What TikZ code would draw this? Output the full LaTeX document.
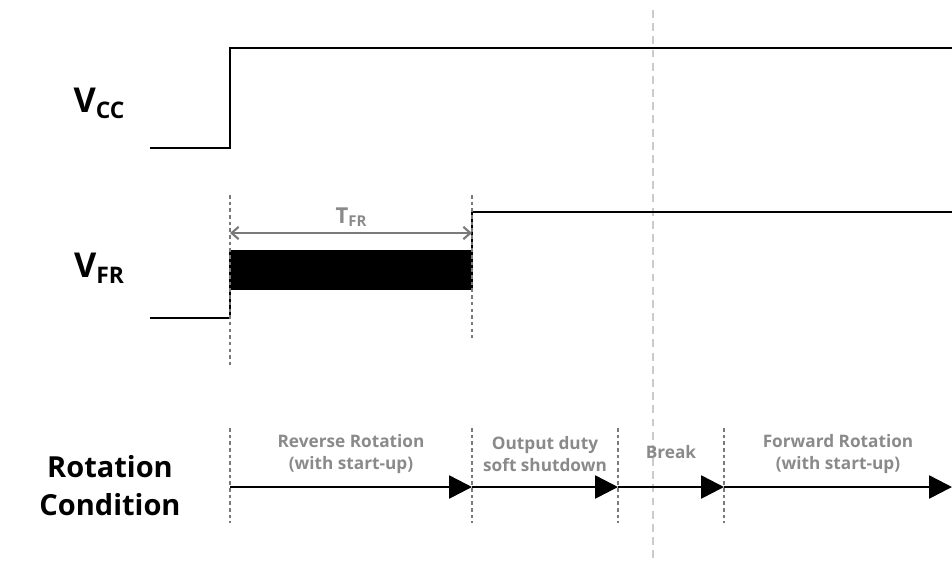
\documentclass[tikz,border=0pt]{standalone}
\usepackage{fontspec}
\setmainfont{Open Sans}
\usetikzlibrary{arrows.meta,positioning,calc}
\definecolor{labelgray}{HTML}{8A8A8A}
\definecolor{guidegray}{HTML}{7A7A7A}
\definecolor{breakgray}{HTML}{CBCBCB}
\tikzset{
  signal/.style={line width=1.45pt,black},
  guide/.style={guidegray,line width=1.1pt,dash pattern=on 2pt off 1.8pt},
  phase/.style={signal,-{Triangle[length=13pt,width=13pt]}},
  phaselabel/.style={labelgray,font=\bfseries\fontsize{9.8}{12.5}\selectfont,align=center},
  siglabel/.style={font=\bfseries\fontsize{19.5}{22}\selectfont},
  sublabel/.style={font=\bfseries\fontsize{11.5}{13}\selectfont}
}
\begin{document}
\begin{tikzpicture}[x=0.02cm,y=-0.02cm]
    \useasboundingbox (0,0) rectangle (952,562);
    % break marker
    \draw[breakgray,line width=0.6pt,dash pattern=on 4.5pt off 3pt] (653,10) -- (653,562);
    % signal names
    \node[siglabel] (vcc) at (99,103) {V\raisebox{-3.4pt}{\fontsize{13}{14}\selectfont CC}};
    \node[siglabel] (vfr) at (99,268) {V\raisebox{-3.4pt}{\fontsize{13}{14}\selectfont FR}};
    \node[font=\bfseries\fontsize{16.5}{21.5}\selectfont,align=center] (cond) at (110,486) {Rotation\\Condition};
    % Vcc
    \draw[signal] (150,148) -- (230,148) -- (230,48) -- (952,48);
    % Vfr with the burst block
    \draw[signal] (150,318) -- (230,318) -- (230,290);
    \fill[black] (229.3,250) rectangle (472.7,290);
    \draw[signal] (472,250) -- (472,212) -- (952,212);
    % timing guides
    \draw[guide] (230,195) -- (230,367);
    \draw[guide] (472,195) -- (472,338);
    \coordinate (tfrl) at (230,233);
    \coordinate (tfrr) at (472,233);
    \draw[guidegray,line width=1.2pt,{Straight Barb[length=4pt,width=7pt]}-{Straight Barb[length=4pt,width=7pt]}] (tfrl) -- (tfrr);
    \node[labelgray,font=\bfseries\fontsize{12.5}{14}\selectfont] (tfr) at ($(tfrl)!.5!(tfrr)+(0,-16)$) {T\raisebox{-2pt}{\fontsize{8.5}{9}\selectfont FR}};
    % rotation phases
    \coordinate (p0) at (230,487);
    \coordinate (p1) at (472,487);
    \coordinate (p2) at (618,487);
    \coordinate (p3) at (724,487);
    \coordinate (p4) at (952,487);
    \foreach \p in {p0,p1,p2,p3}
      \draw[guide] ($(\p)+(0,-59)$) -- ($(\p)+(0,36)$);
    \draw[phase] (p0) -- (p1);
    \draw[phase] (p1) -- (p2);
    \draw[phase] (p2) -- (p3);
    \draw[phase] (p3) -- (p4);
    \node[phaselabel] (rev) at ($(p0)!.5!(p1)+(0,-33)$) {Reverse Rotation\\(with start-up)};
    \node[phaselabel] (soft) at ($(p1)!.5!(p2)+(0,-33)$) {Output duty\\soft shutdown};
    \node[phaselabel] (brk) at ($(p2)!.5!(p3)+(0,-35)$) {Break};
    \node[phaselabel] (fwd) at ($(p3)!.5!(p4)+(0,-33)$) {Forward Rotation\\(with start-up)};
\end{tikzpicture}
\end{document}
